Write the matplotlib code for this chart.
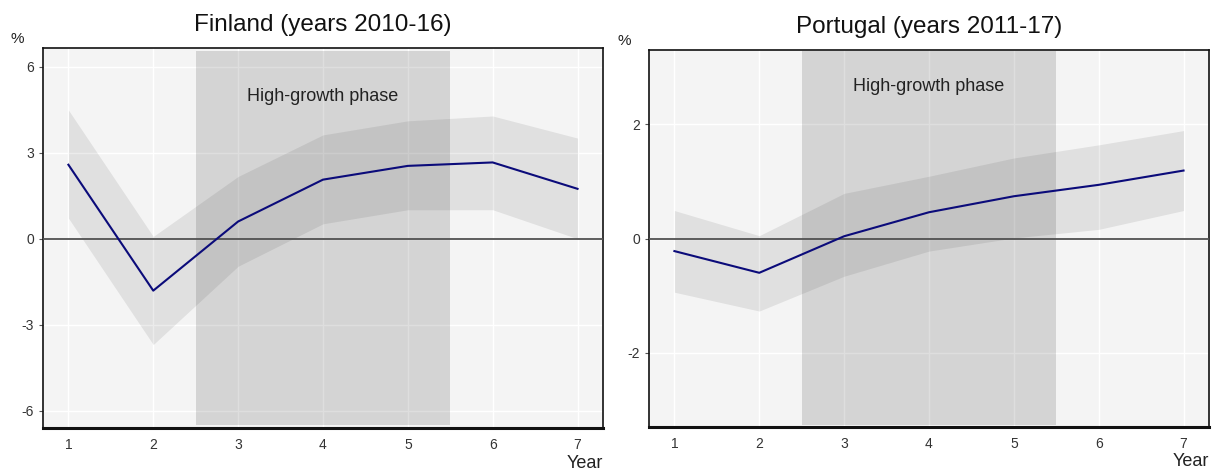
import matplotlib
matplotlib.use("Agg")
import matplotlib.pyplot as plt

years = [1, 2, 3, 4, 5, 6, 7]

fin_mid = [2.58, -1.81, 0.60, 2.06, 2.54, 2.66, 1.74]
fin_hi = [4.49, 0.08, 2.17, 3.62, 4.11, 4.28, 3.51]
fin_lo = [0.72, -3.69, -0.96, 0.52, 1.01, 1.01, 0.00]

por_mid = [-0.22, -0.60, 0.04, 0.46, 0.74, 0.94, 1.19]
por_hi = [0.49, 0.05, 0.79, 1.09, 1.41, 1.64, 1.89]
por_lo = [-0.94, -1.27, -0.66, -0.22, 0.01, 0.16, 0.49]

fin_yticks = [-6, -3, 0, 3, 6]
por_yticks = [-2, 0, 2]

phase_start, phase_end = 2.5, 5.5

plt.rcParams["font.family"] = ["Liberation Sans", "DejaVu Sans"]
plt.rcParams["axes.unicode_minus"] = False

fig = plt.figure(figsize=(12.13, 4.72), dpi=100)

panels = [
    dict(rect=[0.0354, 0.0932, 0.4617, 0.8051], title="Finland (years 2010-16)",
         mid=fin_mid, hi=fin_hi, lo=fin_lo, ylim=(-6.6, 6.65), yticks=fin_yticks,
         shade=(-6.48, 6.55), label_y=4.95),
    dict(rect=[0.5350, 0.0953, 0.4617, 0.7987], title="Portugal (years 2011-17)",
         mid=por_mid, hi=por_hi, lo=por_lo, ylim=(-3.3, 3.3), yticks=por_yticks,
         shade=(-3.26, 3.29), label_y=2.66),
]

for p in panels:
    ax = fig.add_axes(p["rect"])
    ax.set_facecolor("#f4f4f4")
    ax.set_xlim(0.7, 7.3)
    ax.set_ylim(*p["ylim"])
    ax.set_xticks(years)
    ax.set_yticks(p["yticks"])
    ax.grid(True, color="white", linewidth=1.0)
    ax.set_axisbelow(True)

    ax.fill_between([phase_start, phase_end], p["shade"][0], p["shade"][1],
                    color="black", alpha=0.13, linewidth=0, zorder=1)
    ax.fill_between(years, p["lo"], p["hi"], color="black", alpha=0.08,
                    linewidth=0, zorder=2)
    ax.axhline(0, color="#505050", linewidth=1.3, zorder=3)
    ax.plot(years, p["mid"], color="#0b0b7a", linewidth=1.5, zorder=4)

    ax.text(4.0, p["label_y"], "High-growth phase", ha="center", va="center",
            fontsize=13, color="#222222", zorder=5)

    for side in ["top", "right", "left"]:
        ax.spines[side].set_color("#111111")
        ax.spines[side].set_linewidth(1.2)
    ax.spines["bottom"].set_color("#111111")
    ax.spines["bottom"].set_linewidth(2.2)

    ax.tick_params(axis="both", length=3, width=0.8, color="#555555",
                   labelsize=10, labelcolor="#333333")
    ax.tick_params(axis="x", length=0, pad=7)
    ax.set_title(p["title"], fontsize=17.5, pad=12, color="#111111")
    ax.text(-0.045, 1.005, "%", transform=ax.transAxes, fontsize=11,
            ha="center", va="bottom", color="#222222")
    ax.text(1.0, -0.07, "Year", transform=ax.transAxes, fontsize=13,
            ha="right", va="top", color="#222222")

fig.savefig("out.png", dpi=100)
